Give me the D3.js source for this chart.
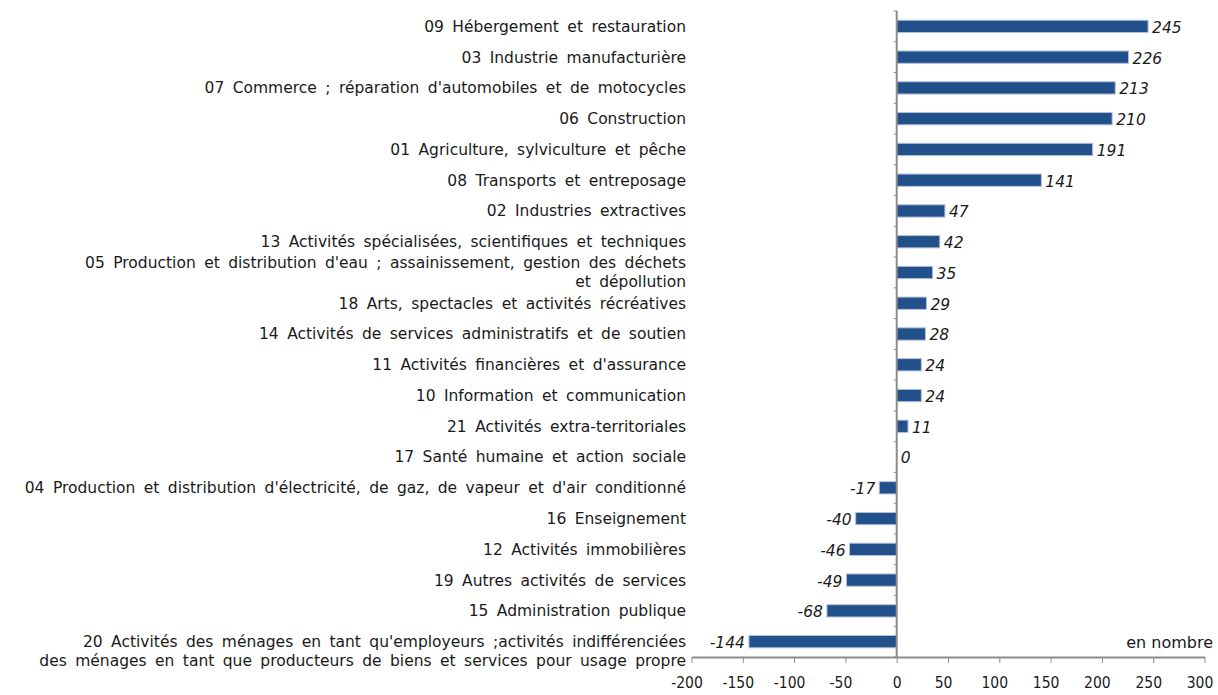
<!DOCTYPE html>
<html>
<head>
<meta charset="utf-8">
<script src="https://cdn.jsdelivr.net/npm/d3@7"></script>
<style>
  body { margin: 0; background: #fff; }
  svg text { font-family: "DejaVu Sans Condensed", "DejaVu Sans", sans-serif; font-stretch: condensed; fill: #1a1a1a; }
  svg text.cat, svg text.val, svg text.unit { font-family: "DejaVu Sans", sans-serif; font-stretch: normal; }
  svg text.cat { word-spacing: 3.5px; }
  .axis path, .axis line { stroke: #8c8c8c; }
</style>
</head>
<body>
<svg id="chart" width="1218" height="695"></svg>
<script>
// categories, top to bottom (multi-line labels split with "|")
var categories = [
  "09 Hébergement et restauration",
  "03 Industrie manufacturière",
  "07 Commerce ; réparation d'automobiles et de motocycles",
  "06 Construction",
  "01 Agriculture, sylviculture et pêche",
  "08 Transports et entreposage",
  "02 Industries extractives",
  "13 Activités spécialisées, scientifiques et techniques",
  "05 Production et distribution d'eau ; assainissement, gestion des déchets|et dépollution",
  "18 Arts, spectacles et activités récréatives",
  "14 Activités de services administratifs et de soutien",
  "11 Activités financières et d'assurance",
  "10 Information et communication",
  "21 Activités extra-territoriales",
  "17 Santé humaine et action sociale",
  "04 Production et distribution d'électricité, de gaz, de vapeur et d'air conditionné",
  "16 Enseignement",
  "12 Activités immobilières",
  "19 Autres activités de services",
  "15 Administration publique",
  "20 Activités des ménages en tant qu'employeurs ;activités indifférenciées|des ménages en tant que producteurs de biens et services pour usage propre"
];
var values = [245, 226, 213, 210, 191, 141, 47, 42, 35, 29, 28, 24, 24, 11, 0, -17, -40, -46, -49, -68, -144];
var xTicks = [-200, -150, -100, -50, 0, 50, 100, 150, 200, 250, 300];
var unitLabel = "en nombre";

var data = categories.map(function(c, i) { return {label: c, value: values[i]}; });

var svg = d3.select("#chart"),
    plotTop = 11, plotBottom = 657,
    x = d3.scaleLinear().domain([-200, 300]).range([691.5, 1204.5]),
    y = d3.scaleBand().domain(categories).range([plotTop, plotBottom]).paddingInner(0.6).paddingOuter(0.3);

// bars
svg.selectAll(".bar")
    .data(data)
  .enter().append("rect")
    .attr("class", "bar")
    .attr("x", function(d) { return x(Math.min(0, d.value)); })
    .attr("y", function(d) { return y(d.label); })
    .attr("width", function(d) { return Math.abs(x(d.value) - x(0)); })
    .attr("height", y.bandwidth())
    .attr("fill", "#21508a")
    .attr("stroke", "#b4c0da")
    .attr("stroke-width", 1);

// value labels
svg.selectAll(".val")
    .data(data)
  .enter().append("text")
    .attr("class", "val")
    .attr("x", function(d) { return d.value < 0 ? x(d.value) - 4 : x(d.value) + 4; })
    .attr("y", function(d) { return y(d.label) + y.bandwidth() / 2 + 1; })
    .attr("dy", "0.35em")
    .attr("text-anchor", function(d) { return d.value < 0 ? "end" : "start"; })
    .style("font-style", "italic")
    .style("font-size", "15.5px")
    .text(function(d) { return d.value; });

// y axis at zero
var yAxis = svg.append("g")
    .attr("class", "axis")
    .attr("transform", "translate(" + x(0) + ",0)");
yAxis.append("line")
    .attr("y1", plotTop).attr("y2", plotBottom)
    .attr("stroke-width", 2);
yAxis.selectAll(".tk")
    .data(d3.range(categories.length + 1))
  .enter().append("line")
    .attr("x1", -3).attr("x2", 0)
    .attr("y1", function(i) { return plotTop + i * (plotBottom - plotTop) / categories.length; })
    .attr("y2", function(i) { return plotTop + i * (plotBottom - plotTop) / categories.length; });

// category labels
var lab = svg.append("g").selectAll("text")
    .data(data)
  .enter().append("text")
    .attr("class", "cat")
    .attr("text-anchor", "end")
    .style("font-size", "15.5px")
    .attr("transform", function(d) {
      return "translate(686," + (y(d.label) + y.bandwidth() / 2) + ")";
    });
lab.each(function(d) {
  var lines = d.label.split("|"), t = d3.select(this);
  var start = d.value < -100 ? 0 : -(lines.length - 1) * 9.5;
  lines.forEach(function(l, k) {
    t.append("tspan").attr("x", 0).attr("y", start + k * 19).attr("dy", "0.35em").text(l);
  });
});

// x axis
var xAxis = svg.append("g")
    .attr("class", "axis")
    .attr("transform", "translate(0," + plotBottom + ")")
    .call(d3.axisBottom(x).tickValues(xTicks).tickFormat(function(d) { return String(d); })
      .tickSize(6).tickPadding(14).tickSizeOuter(0));
xAxis.select(".domain").attr("stroke-width", 2);
xAxis.selectAll("text")
    .style("font-size", "15.5px")
    .attr("fill", "#1a1a1a")
    .attr("dx", function(d) { return d === 0 ? 0 : -5; });

svg.append("text")
    .attr("class", "unit")
    .attr("x", 1213).attr("y", 642)
    .attr("dy", "0.35em")
    .attr("text-anchor", "end")
    .style("font-size", "16px")
    .text(unitLabel);
</script>
</body>
</html>
